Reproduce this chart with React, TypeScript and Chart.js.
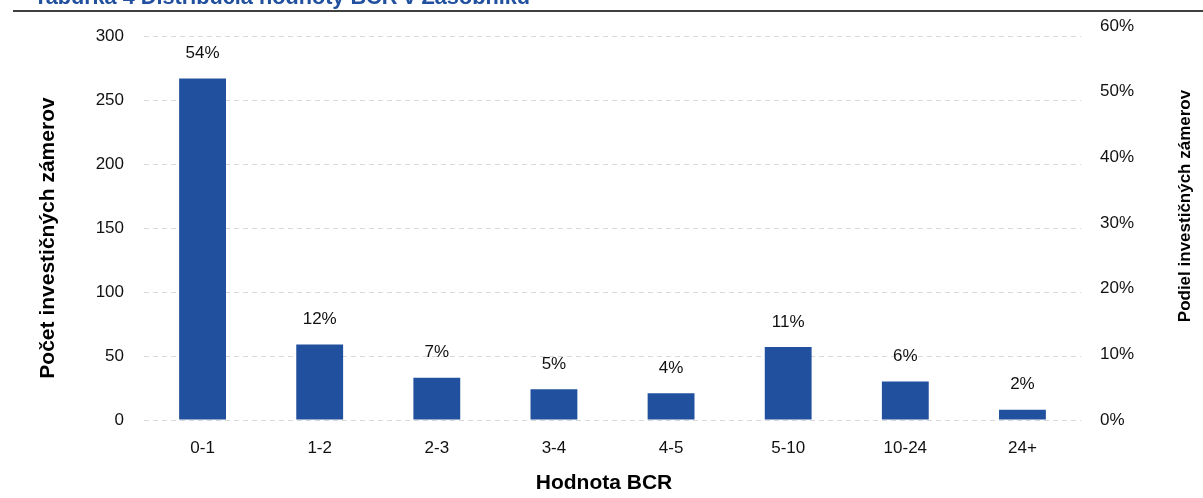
import React, { useEffect, useRef } from 'react';
import { Chart, registerables } from 'chart.js';

Chart.register(...registerables);

const categories = ['0-1', '1-2', '2-3', '3-4', '4-5', '5-10', '10-24', '24+'];
const projectCounts = [267, 59, 33, 24, 21, 57, 30, 8];
const shareLabels = ['54%', '12%', '7%', '5%', '4%', '11%', '6%', '2%'];
const countTicks = [0, 50, 100, 150, 200, 250, 300];
const shareTicks = [0, 10, 20, 30, 40, 50, 60];

const tableTitle = 'Tabuľka 4 Distribúcia hodnoty BCR v Zásobníku';
const leftAxisTitle = 'Počet investičných zámerov';
const rightAxisTitle = 'Podiel investičných zámerov';
const xAxisTitle = 'Hodnota BCR';

const BLUE = '#21509E';
const FONT = '"Liberation Sans", Arial, sans-serif';

const decorPlugin = {
  id: 'decor',
  afterDatasetsDraw(chart: any) {
    const ctx = chart.ctx as CanvasRenderingContext2D;
    const meta = chart.getDatasetMeta(0);
    ctx.save();
    // value labels above bars
    ctx.font = `17px ${FONT}`;
    ctx.fillStyle = '#111';
    ctx.textAlign = 'center';
    ctx.textBaseline = 'middle';
    meta.data.forEach((bar: any, i: number) => {
      ctx.fillText(shareLabels[i], bar.x, bar.y - 25);
    });

    // table title (cropped at top) and rule
    ctx.font = `bold 21.7px ${FONT}`;
    ctx.fillStyle = BLUE;
    ctx.textAlign = 'left';
    ctx.textBaseline = 'alphabetic';
    ctx.fillText(tableTitle, 34, 4);
    ctx.strokeStyle = '#000';
    ctx.lineWidth = 1.5;
    ctx.beginPath();
    ctx.moveTo(13, 11);
    ctx.lineTo(1203, 11);
    ctx.stroke();

    // axis titles
    ctx.fillStyle = '#000';
    ctx.textAlign = 'center';
    ctx.textBaseline = 'middle';
    ctx.font = `bold 21px ${FONT}`;
    ctx.fillText(xAxisTitle, 604, 483);

    ctx.save();
    ctx.translate(48, 238);
    ctx.rotate(-Math.PI / 2);
    ctx.fillText(leftAxisTitle, 0, 0);
    ctx.restore();

    ctx.save();
    ctx.font = `bold 17px ${FONT}`;
    ctx.translate(1185, 206);
    ctx.rotate(-Math.PI / 2);
    ctx.fillText(rightAxisTitle, 0, 0);
    ctx.restore();

    ctx.restore();
  },
};

export default function App() {
  const canvasRef = useRef<HTMLCanvasElement | null>(null);

  useEffect(() => {
    if (!canvasRef.current) return;
    const chart = new Chart(canvasRef.current, {
      type: 'bar',
      data: {
        labels: categories,
        datasets: [
          {
            data: projectCounts,
            backgroundColor: BLUE,
            borderWidth: 0,
            barPercentage: 0.4,
            categoryPercentage: 1,
            yAxisID: 'y',
          },
        ],
      },
      options: {
        responsive: false,
        maintainAspectRatio: false,
        animation: false,
        layout: { padding: { top: 26, left: 0, right: 0, bottom: 0 } },
        plugins: {
          legend: { display: false },
          tooltip: { enabled: false },
          title: { display: false },
        },
        scales: {
          x: {
            grid: { display: false },
            border: { display: false },
            ticks: {
              color: '#111',
              font: { family: FONT, size: 17 },
              padding: 10,
              maxRotation: 0,
            },
            afterFit: (s: any) => {
              s.height = 78;
            },
          },
          y: {
            position: 'left',
            min: 0,
            max: 308,
            grid: {
              color: '#D9D9D9',
              lineWidth: 1,
              drawTicks: false,
            },
            border: { display: false, dash: [5, 4] },
            ticks: {
              color: '#111',
              font: { family: FONT, size: 17 },
              padding: 20,
              includeBounds: false,
            },
            afterBuildTicks: (axis: any) => {
              axis.ticks = countTicks.map((v) => ({ value: v }));
            },
            afterFit: (s: any) => {
              s.width = 144;
              s.paddingTop = 10;
              s.paddingBottom = 10;
            },
          },
          y2: {
            position: 'right',
            min: 0,
            max: 60,
            grid: { display: false, drawTicks: false },
            border: { display: false },
            ticks: {
              color: '#111',
              font: { family: FONT, size: 17 },
              padding: 19,
              callback: (v: any) => `${Math.round(Number(v))}%`,
            },
            afterBuildTicks: (axis: any) => {
              axis.ticks = shareTicks.map((v) => ({ value: v }));
            },
            afterFit: (s: any) => {
              s.width = 122;
              s.paddingTop = 10;
              s.paddingBottom = 10;
            },
          },
        },
      },
      plugins: [decorPlugin],
    });
    return () => chart.destroy();
  }, []);

  return (
    <div
      style={{
        position: 'fixed',
        left: 0,
        top: 0,
        width: 1203,
        height: 498,
        background: '#fff',
      }}
    >
      <canvas ref={canvasRef} width={1203} height={498} style={{ display: 'block' }} />
    </div>
  );
}
